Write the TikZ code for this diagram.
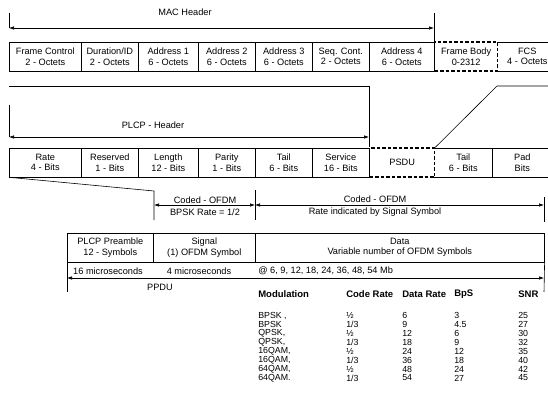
\documentclass[tikz,border=0pt]{standalone}
\usepackage{fontspec}
\setmainfont{Liberation Sans}
\usetikzlibrary{arrows.meta,positioning}

\begin{document}
\begin{tikzpicture}[x=1pt, y=-1pt, line width=0.6pt,
  font=\fontsize{9.2}{10.5}\selectfont,
  field/.style={draw, anchor=west, minimum height=29, inner sep=0, align=center},
  gapfield/.style={field, fill=white, line width=1.3pt, dash pattern=on 3.5pt off 2pt},
  cell/.style={anchor=west, inner sep=0},
  spanarrow/.style={{Latex[length=5pt,width=3.5pt]}-{Latex[length=5pt,width=3.5pt]}}]
  \useasboundingbox (0,0) rectangle (548,401);
  \clip (0,0) rectangle (548,401);
  % MAC frame fields
  \foreach \n/\x/\w/\top/\bot in {
    mac1/9/72/Frame Control/2 - Octets, mac2/81/57/Duration\slash ID/2 - Octets,
    mac3/138/60/Address 1/6 - Octets, mac4/198/57/Address 2/6 - Octets,
    mac5/255/57/Address 3/6 - Octets, mac6/312/57/Seq. Cont./2 - Octets,
    mac7/369/65/Address 4/6 - Octets, mac8/497/60/FCS/4 -\hspace{3pt}Octets
  } {
    \node[field, minimum width=\w] (\n) at (\x, 56.5) {\top\\\bot};
  }
  \node[gapfield, minimum width=63] (body) at (434, 56.5) {Frame Body\\0-2312};
  % MAC header span
  \coordinate (macL) at (9,13);
  \coordinate (macLa) at (9,28);
  \coordinate (macR) at (434,13);
  \coordinate (macRa) at (434,28);
  \draw (macL) -- (macLa);
  \draw (macR) -- (body.north west);
  \draw[spanarrow] (macLa) -- (macRa);
  \node (maclabel) at (185,12) {MAC Header};
  % PLCP frame fields
  \foreach \n/\x/\w/\top/\bot in {
    plcp1/9/72/Rate/4 - Bits, plcp2/81/57/Reserved/1 - Bits,
    plcp3/138/60/Length/12 - Bits, plcp4/198/57/Parity/1 - Bits,
    plcp5/255/57/Tail/6 - Bits, plcp6/312/57/Service/16 - Bits,
    plcp8/434/58/Tail/6 - Bits, plcp9/492/60/Pad/Bits
  } {
    \node[field, minimum width=\w] (\n) at (\x, 162.5) {\top\\\bot};
  }
  \node[gapfield, minimum width=65] (psdu) at (369, 162.5) {PSDU};
  % mapping of the MAC frame onto the PSDU
  \coordinate (mapL) at (9,86);
  \coordinate (mapC) at (369,86);
  \coordinate (mapD) at (497,86);
  \coordinate (mapE) at (560,86);
  \draw (mapL) -- (mapC) -- (psdu.north west);
  \draw (psdu.north east) -- (mapD) -- (mapE);
  % PLCP header span
  \coordinate (plcpL) at (9,105);
  \coordinate (plcpLa) at (9,137);
  \coordinate (plcpRa) at (369,137);
  \draw (plcpL) -- (plcpLa);
  \draw[spanarrow] (plcpLa) -- (plcpRa);
  \node (plcplabel) at (153,125) {PLCP - Header};
  % coded OFDM spans
  \coordinate (sigT) at (154,191);
  \coordinate (sigB) at (154,220);
  \coordinate (sigA) at (154,205);
  \coordinate (datT) at (255,190);
  \coordinate (datB) at (255,220);
  \coordinate (datA) at (255,205);
  \coordinate (endT) at (544,197);
  \coordinate (endB) at (544,222);
  \coordinate (endA) at (544,205);
  \draw (plcp1.south west) -- (sigT) -- (sigB);
  \draw (datT) -- (datB);
  \draw (endT) -- (endB);
  \draw[spanarrow] (sigA) -- (datA);
  \draw[spanarrow] (datA) -- (endA);
  \node (sigcode) at (205,200) {Coded - OFDM};
  \node (sigrate) at (205,212) {BPSK Rate = 1/2};
  \node (datcode) at (375,199) {Coded - OFDM};
  \node (datrate) at (375,212) {Rate indicated by Signal Symbol};
  % PPDU
  \node[field, minimum width=86] (pre) at (67,247.5) {PLCP Preamble\\12 - Symbols};
  \node[field, minimum width=102] (sig) at (153,247.5) {Signal\\(1) OFDM Symbol};
  \node[field, minimum width=289] (data) at (255,247.5) {Data\\Variable number of OFDM Symbols};
  \coordinate (ppduL) at (67,278);
  \coordinate (ppduR) at (544,278);
  \coordinate (ppduLb) at (67,292);
  \coordinate (ppduRb) at (544,292);
  \draw (pre.south west) -- (ppduLb);
  \draw (data.south east) -- (ppduRb);
  \draw[spanarrow] (ppduL) -- (ppduR);
  \node (pretime) at (108,271) {16 microseconds};
  \node (sigtime) at (199,271) {4 microseconds};
  \node[cell] (datrates) at (258,271) {@ 6, 9, 12, 18, 24, 36, 48, 54 Mb};
  \node (ppdulabel) at (160,287) {PPDU};
  % rate table
  \foreach \n/\x/\txt in {hmod/258/Modulation, hcr/346/Code Rate, hdr/402/Data Rate, hbps/454/BpS, hsnr/518/SNR} {
    \node[cell, font=\fontsize{9.5}{10.5}\selectfont\bfseries] (\n) at (\x,294) {\txt};
  }
  \foreach \k/\vmod/\vcode/\vdata/\vbps/\vsnr in {
    1/BPSK\ \char44/½/6/3/25, 2/BPSK/1\slash 3/9/4.5/27, 3/QPSK\char44/½/12/6/30, 4/QPSK\char44/1\slash 3/18/9/32,
    5/16QAM\char44/½/24/12/35, 6/16QAM\char44/1\slash 3/36/18/40, 7/64QAM\char44/½/48/24/42, 8/64QAM./1\slash 3/54/27/45
  } {
    \pgfmathsetmacro{\rowy}{306.8+8.9*\k}
    \node[cell, font=\fontsize{8.8}{10}\selectfont] (mod\k) at (258,\rowy) {\vmod};
    \node[cell, font=\fontsize{8.8}{10}\selectfont] (cr\k) at (346,\rowy) {\vcode};
    \node[cell, font=\fontsize{8.8}{10}\selectfont] (dr\k) at (402,\rowy) {\vdata};
    \node[cell, font=\fontsize{8.8}{10}\selectfont] (bps\k) at (454,\rowy) {\vbps};
    \node[cell, font=\fontsize{8.8}{10}\selectfont] (snr\k) at (518,\rowy) {\vsnr};
  }
\end{tikzpicture}
\end{document}
